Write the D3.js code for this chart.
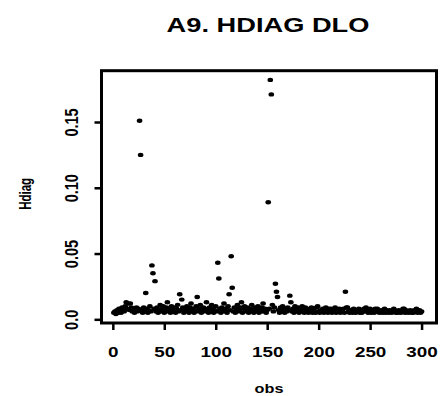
<!DOCTYPE html>
<html><head><meta charset="utf-8">
<script src="https://cdn.jsdelivr.net/npm/d3@7"></script>
<style>
html,body{margin:0;padding:0;background:#fff;}
text{font-family:"Liberation Sans",Arial,Helvetica,sans-serif;font-weight:bold;fill:#000;}
</style></head>
<body>
<script>
const titleText = "A9. HDIAG DLO";
const xLabel = "obs";
const yLabel = "Hdiag";
const xTicks = [0, 50, 100, 150, 200, 250, 300];
const yTicks = [0, 0.05, 0.10, 0.15];
const yTickLabels = ["0.0", "0.05", "0.10", "0.15"];
// Hdiag values for observations 1..300
const hdiag = [
0.005,0.006,0.004,0.007,0.005,0.008,0.006,0.005,0.009,0.007,
0.006,0.010,0.013,0.008,0.012,0.007,0.012,0.009,0.006,0.008,
0.005,0.007,0.009,0.006,0.008,0.151,0.125,0.007,0.005,0.009,
0.006,0.020,0.008,0.005,0.007,0.010,0.006,0.041,0.035,0.008,
0.029,0.006,0.009,0.005,0.007,0.011,0.006,0.008,0.010,0.005,
0.007,0.009,0.013,0.006,0.008,0.005,0.010,0.007,0.006,0.009,
0.005,0.008,0.011,0.006,0.019,0.007,0.015,0.009,0.005,0.008,
0.006,0.010,0.007,0.005,0.009,0.012,0.006,0.008,0.005,0.007,
0.010,0.017,0.006,0.008,0.011,0.005,0.007,0.009,0.006,0.008,
0.013,0.007,0.005,0.009,0.006,0.011,0.008,0.005,0.007,0.010,
0.006,0.043,0.031,0.008,0.005,0.009,0.007,0.012,0.006,0.008,
0.005,0.010,0.019,0.007,0.048,0.024,0.006,0.009,0.005,0.008,
0.011,0.007,0.006,0.009,0.013,0.005,0.008,0.010,0.006,0.007,
0.009,0.005,0.008,0.006,0.011,0.007,0.005,0.009,0.006,0.008,
0.010,0.005,0.007,0.006,0.009,0.012,0.006,0.008,0.005,0.007,
0.089,0.008,0.182,0.171,0.011,0.006,0.009,0.027,0.021,0.017,
0.007,0.005,0.009,0.006,0.010,0.007,0.005,0.008,0.006,0.009,
0.007,0.018,0.013,0.006,0.008,0.005,0.010,0.007,0.006,0.009,
0.005,0.008,0.006,0.010,0.007,0.005,0.009,0.006,0.008,0.005,
0.007,0.006,0.009,0.005,0.008,0.006,0.005,0.009,0.010,0.006,
0.005,0.007,0.006,0.008,0.005,0.007,0.009,0.006,0.005,0.008,
0.006,0.008,0.005,0.007,0.006,0.009,0.005,0.007,0.006,0.008,
0.005,0.007,0.006,0.008,0.005,0.021,0.009,0.009,0.006,0.005,
0.007,0.006,0.005,0.008,0.006,0.005,0.007,0.006,0.008,0.005,
0.006,0.005,0.007,0.008,0.006,0.009,0.007,0.005,0.006,0.008,
0.005,0.007,0.006,0.005,0.008,0.006,0.008,0.007,0.005,0.006,
0.007,0.005,0.006,0.008,0.005,0.007,0.006,0.005,0.007,0.006,
0.005,0.006,0.008,0.007,0.005,0.006,0.005,0.007,0.006,0.005,
0.006,0.008,0.008,0.005,0.007,0.006,0.005,0.006,0.007,0.005,
0.006,0.005,0.007,0.006,0.008,0.005,0.006,0.007,0.005,0.006
];

const W = 441, H = 396, SX = 1.3;
const box = {l: 101.5, r: 436.5, t: 70.7, b: 323};
const svg = d3.select("body").append("svg").attr("width", W).attr("height", H);

const x = d3.scaleLinear().domain([-11, 314.5]).range([box.l, box.r]);
const y = d3.scaleLinear().domain([-0.0028, 0.189]).range([box.b, box.t]);

// title
svg.append("text")
  .attr("transform", `translate(268,31.7) scale(${SX},1)`)
  .attr("text-anchor", "middle").attr("font-size", 20)
  .attr("textLength", 156).attr("lengthAdjust", "spacingAndGlyphs")
  .text(titleText);

// points
svg.append("g").selectAll("ellipse").data(hdiag).join("ellipse")
  .attr("cx", (d, i) => x(i + 1)).attr("cy", d => y(d))
  .attr("rx", 2.8).attr("ry", 2.2).attr("fill", "#000");

// x axis
const gx = svg.append("g").attr("transform", `translate(0,${box.b})`)
  .call(d3.axisBottom(x).tickValues(xTicks).tickSize(7).tickFormat(d3.format("d")));
gx.select(".domain").remove();
gx.selectAll(".tick line").attr("stroke", "#000").attr("stroke-width", 2.5);
gx.selectAll(".tick text").attr("y", null).attr("dy", null)
  .attr("transform", `translate(0,34) scale(${SX},1)`)
  .attr("font-size", 14.5).attr("font-family", null).attr("fill", "#000");

// y axis
const gy = svg.append("g").attr("transform", `translate(${box.l},0)`)
  .call(d3.axisLeft(y).tickValues(yTicks).tickSize(7).tickFormat((d, i) => yTickLabels[i]));
gy.select(".domain").remove();
gy.selectAll(".tick line").attr("stroke", "#000").attr("stroke-width", 2.5);
gy.selectAll(".tick text").attr("x", null).attr("dy", null)
  .attr("text-anchor", "middle")
  .attr("transform", `translate(-23.5,0) scale(${SX},1) rotate(-90)`)
  .attr("font-size", 14.5).attr("font-family", null).attr("fill", "#000");

// box
svg.append("rect").attr("x", box.l).attr("y", box.t)
  .attr("width", box.r - box.l).attr("height", box.b - box.t)
  .attr("fill", "none").attr("stroke", "#000").attr("stroke-width", 3);

// axis titles
svg.append("text")
  .attr("transform", `translate(${(box.l + box.r) / 2},393) scale(${SX},1)`)
  .attr("text-anchor", "middle").attr("font-size", 12.5)
  .text(xLabel);
svg.append("text")
  .attr("transform", `translate(31,${(box.t + box.b) / 2 - 3}) scale(${SX},1) rotate(-90)`)
  .attr("text-anchor", "middle").attr("font-size", 13)
  .attr("textLength", 32).attr("lengthAdjust", "spacingAndGlyphs")
  .text(yLabel);
</script>
</body></html>
